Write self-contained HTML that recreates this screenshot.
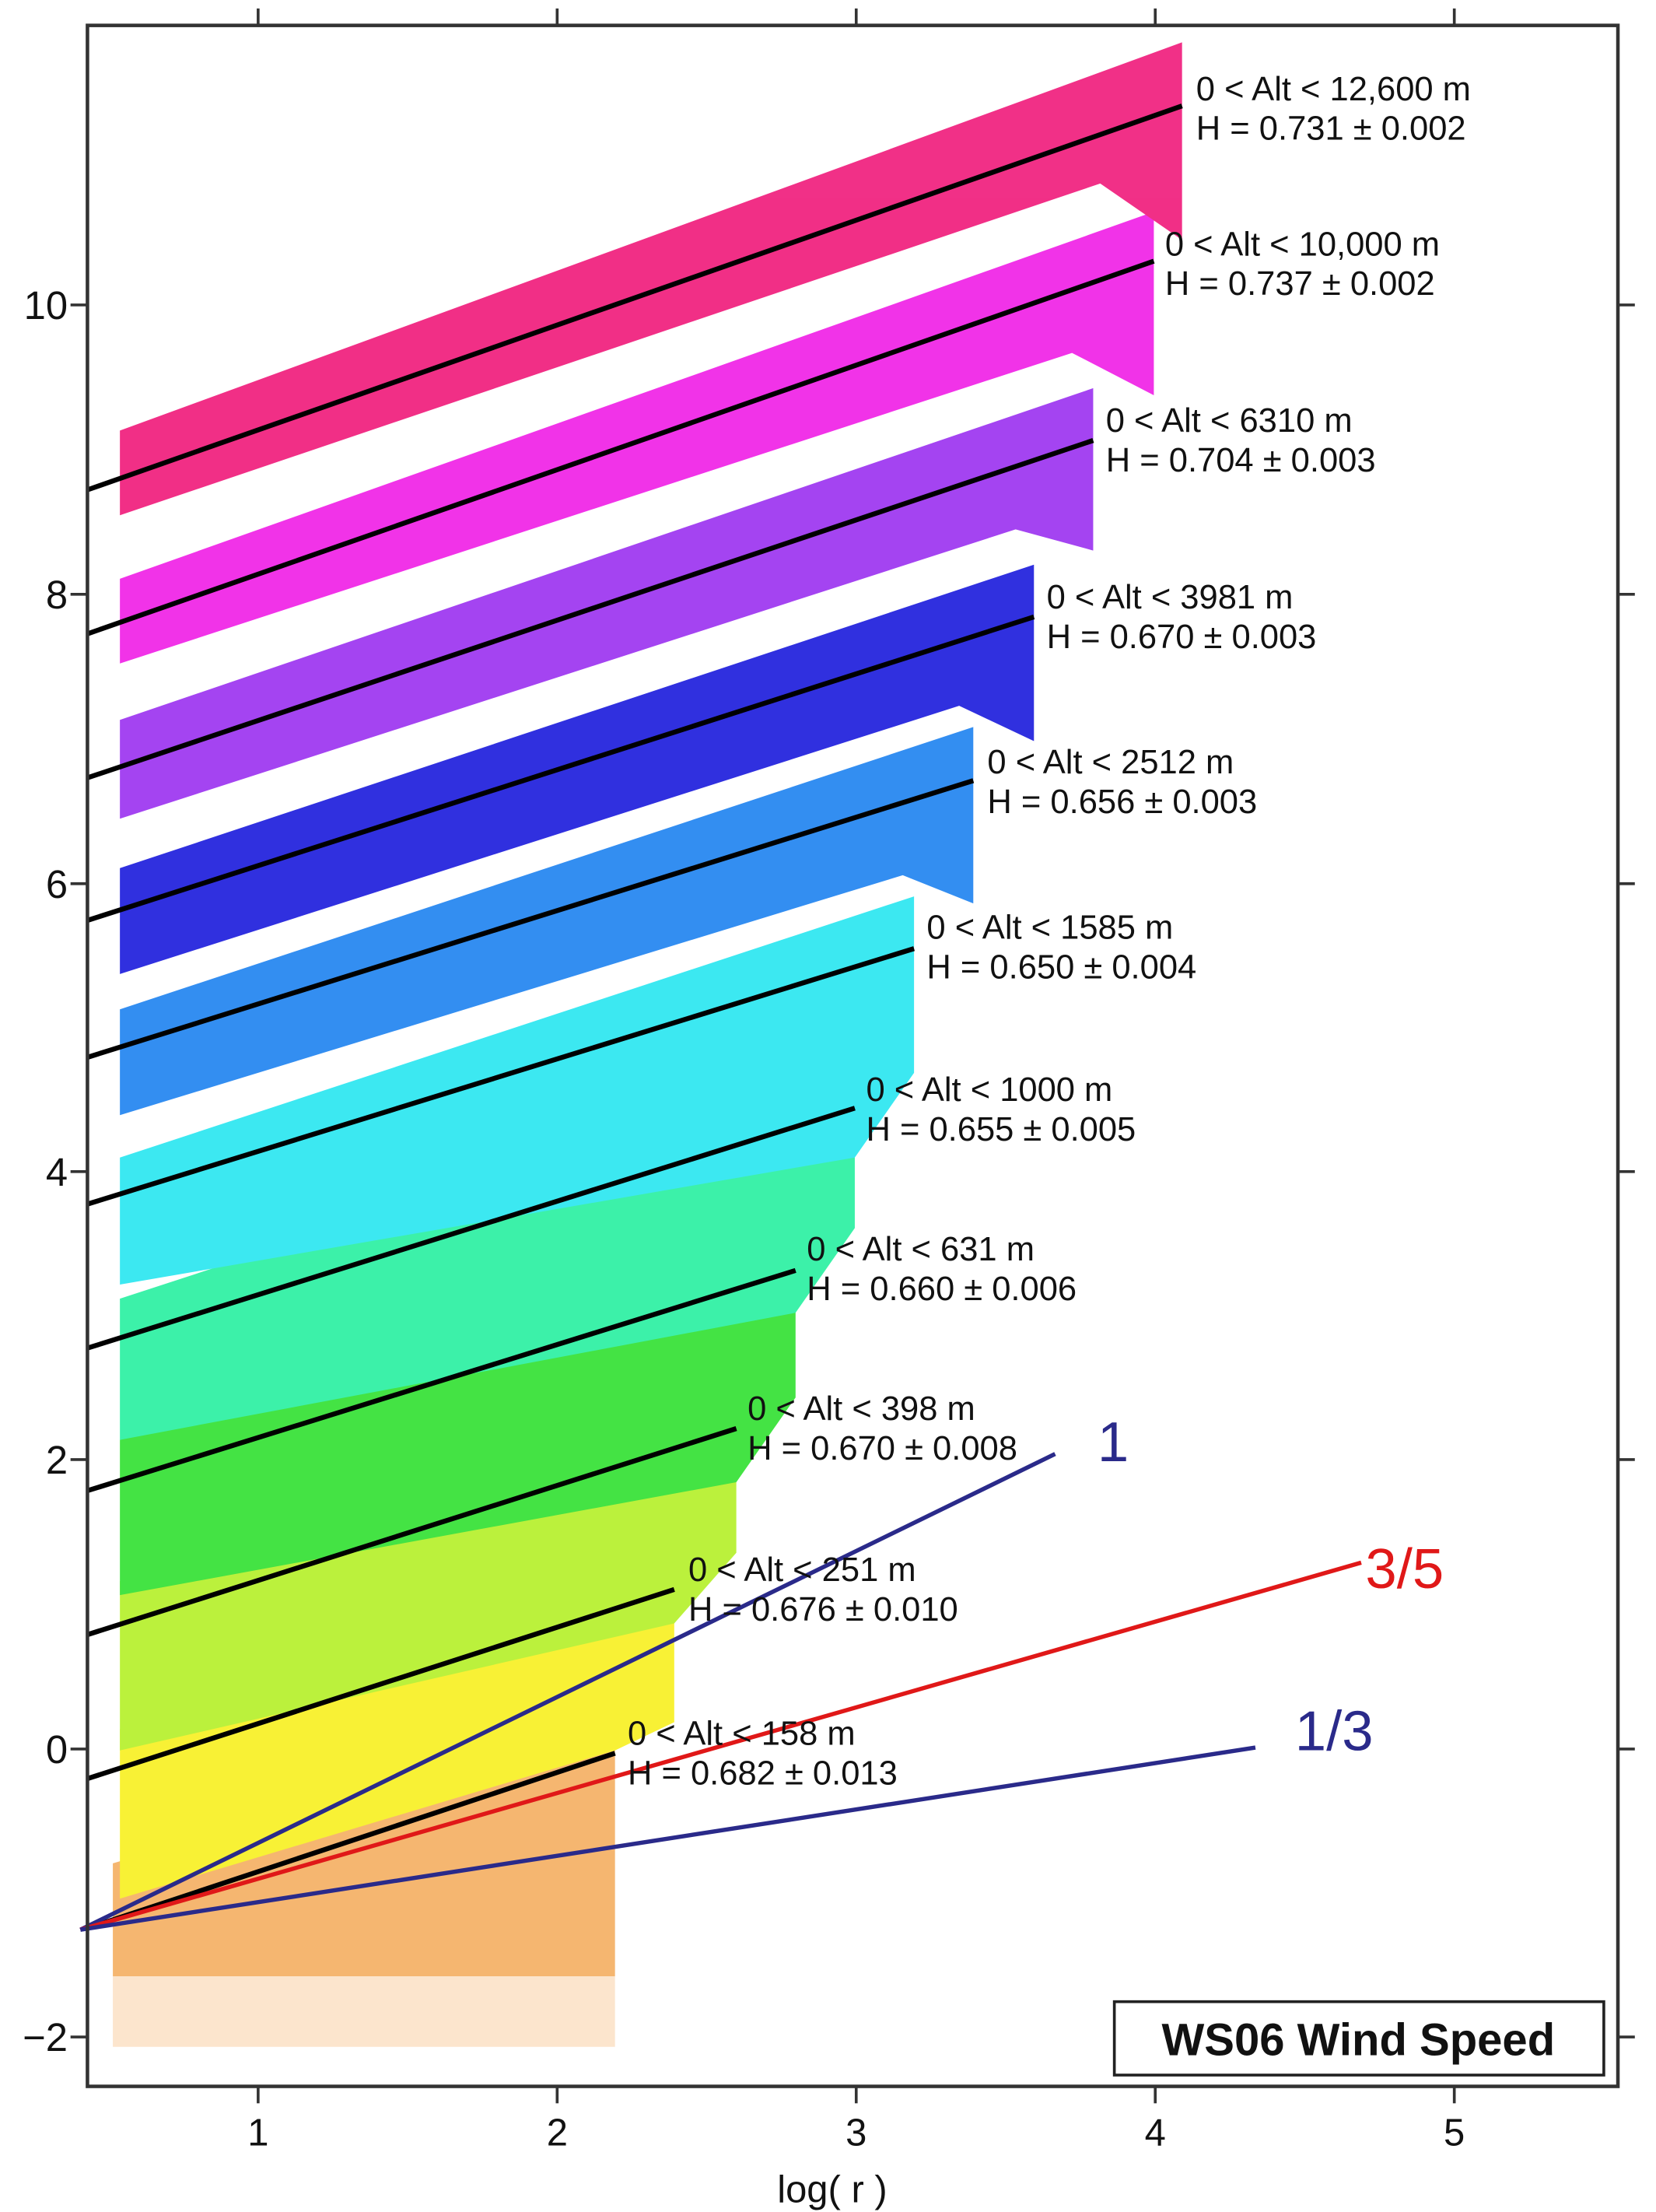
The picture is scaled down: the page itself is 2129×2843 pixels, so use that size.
<!DOCTYPE html>
<html><head><meta charset="utf-8"><style>html,body{margin:0;padding:0;background:#fff}svg{display:block}</style></head>
<body>
<svg width="2129" height="2843" viewBox="0 0 1174 1567" preserveAspectRatio="none" xmlns="http://www.w3.org/2000/svg" font-family="Liberation Sans, sans-serif">
<rect width="1174" height="1567" fill="#fff"/>
<g opacity="0.9">
<polygon points="80,1400 436,1400 436,1450 80,1450" fill="#f08c1e" opacity="0.25"/>
<polygon points="80,1320 436,1215 436,1400 80,1400" fill="#f08c1e" opacity="0.7"/>
<polygon points="85,1225 478,1085 478,1220 436,1240 85,1345" fill="#f8f020"/>
<polygon points="85,1120 522,975 522,1100 478,1150 85,1240" fill="#b4f028"/>
<polygon points="85,1020 564,865 564,990 522,1050 85,1130" fill="#30e030"/>
<polygon points="85,920 606,750 606,870 564,930 85,1020" fill="#28f0a0"/>
<polygon points="85,820 648,635 648,760 606,820 85,910" fill="#28e6f0"/>
<polygon points="85,715 690,515 690,640 640,620 85,790" fill="#1e82f0"/>
<polygon points="85,615 733,400 733,525 680,500 85,690" fill="#1a1adc"/>
<polygon points="85,510 775,275 775,390 720,375 85,580" fill="#9b30f0"/>
<polygon points="85,410 818,150 818,280 760,250 85,470" fill="#f01ee6"/>
<polygon points="85,305 838,30 838,170 780,130 85,365" fill="#f0197a"/>
</g>
<g stroke="#000" stroke-width="3.5">
<line x1="62" y1="347" x2="838" y2="75"/>
<line x1="62" y1="449" x2="818" y2="185"/>
<line x1="62" y1="551" x2="775" y2="312"/>
<line x1="62" y1="652" x2="733" y2="437"/>
<line x1="62" y1="749" x2="690" y2="553"/>
<line x1="62" y1="853" x2="648" y2="672"/>
<line x1="62" y1="955" x2="606" y2="785"/>
<line x1="62" y1="1056" x2="564" y2="900"/>
<line x1="62" y1="1158" x2="522" y2="1012"/>
<line x1="62" y1="1260" x2="478" y2="1126"/>
<line x1="62" y1="1366" x2="436" y2="1242"/>
</g>
<g stroke-width="3">
<line x1="57" y1="1367" x2="748" y2="1030" stroke="#2a2a8a"/>
<line x1="57" y1="1367" x2="965" y2="1107" stroke="#e01818"/>
<line x1="57" y1="1367" x2="890" y2="1238" stroke="#2a2a8a"/>
</g>
<text x="778" y="1035" font-size="40" fill="#2a2a8a">1</text>
<text x="968" y="1125" font-size="40" fill="#e01818">3/5</text>
<text x="918" y="1240" font-size="40" fill="#2a2a8a">1/3</text>
<g font-size="24" fill="#111">
<text x="848" y="71">0 &lt; Alt &lt; 12,600 m</text><text x="848" y="99">H = 0.731 ± 0.002</text>
<text x="826" y="181">0 &lt; Alt &lt; 10,000 m</text><text x="826" y="209">H = 0.737 ± 0.002</text>
<text x="784" y="306">0 &lt; Alt &lt; 6310 m</text><text x="784" y="334">H = 0.704 ± 0.003</text>
<text x="742" y="431">0 &lt; Alt &lt; 3981 m</text><text x="742" y="459">H = 0.670 ± 0.003</text>
<text x="700" y="548">0 &lt; Alt &lt; 2512 m</text><text x="700" y="576">H = 0.656 ± 0.003</text>
<text x="657" y="665">0 &lt; Alt &lt; 1585 m</text><text x="657" y="693">H = 0.650 ± 0.004</text>
<text x="614" y="780">0 &lt; Alt &lt; 1000 m</text><text x="614" y="808">H = 0.655 ± 0.005</text>
<text x="572" y="893">0 &lt; Alt &lt; 631 m</text><text x="572" y="921">H = 0.660 ± 0.006</text>
<text x="530" y="1006">0 &lt; Alt &lt; 398 m</text><text x="530" y="1034">H = 0.670 ± 0.008</text>
<text x="488" y="1120">0 &lt; Alt &lt; 251 m</text><text x="488" y="1148">H = 0.676 ± 0.010</text>
<text x="445" y="1236">0 &lt; Alt &lt; 158 m</text><text x="445" y="1264">H = 0.682 ± 0.013</text>
</g>
<rect x="62" y="18" width="1085" height="1460" fill="none" stroke="#333" stroke-width="2.5"/>
<g stroke="#333" stroke-width="2">
<line x1="183" y1="1478" x2="183" y2="1490"/><line x1="395" y1="1478" x2="395" y2="1490"/><line x1="607" y1="1478" x2="607" y2="1490"/><line x1="819" y1="1478" x2="819" y2="1490"/><line x1="1031" y1="1478" x2="1031" y2="1490"/>
<line x1="183" y1="18" x2="183" y2="6"/><line x1="395" y1="18" x2="395" y2="6"/><line x1="607" y1="18" x2="607" y2="6"/><line x1="819" y1="18" x2="819" y2="6"/><line x1="1031" y1="18" x2="1031" y2="6"/>
<line x1="50" y1="216" x2="62" y2="216"/><line x1="50" y1="421" x2="62" y2="421"/><line x1="50" y1="626" x2="62" y2="626"/><line x1="50" y1="830" x2="62" y2="830"/><line x1="50" y1="1034" x2="62" y2="1034"/><line x1="50" y1="1239" x2="62" y2="1239"/><line x1="50" y1="1443" x2="62" y2="1443"/>
<line x1="1147" y1="216" x2="1159" y2="216"/><line x1="1147" y1="421" x2="1159" y2="421"/><line x1="1147" y1="626" x2="1159" y2="626"/><line x1="1147" y1="830" x2="1159" y2="830"/><line x1="1147" y1="1034" x2="1159" y2="1034"/><line x1="1147" y1="1239" x2="1159" y2="1239"/><line x1="1147" y1="1443" x2="1159" y2="1443"/>
</g>
<g font-size="28" fill="#111" text-anchor="end">
<text x="48" y="226">10</text><text x="48" y="431">8</text><text x="48" y="636">6</text><text x="48" y="840">4</text><text x="48" y="1044">2</text><text x="48" y="1249">0</text><text x="48" y="1453">−2</text>
</g>
<g font-size="27" fill="#111" text-anchor="middle">
<text x="183" y="1520">1</text><text x="395" y="1520">2</text><text x="607" y="1520">3</text><text x="819" y="1520">4</text><text x="1031" y="1520">5</text>
<text x="590" y="1560">log( r )</text>
</g>
<rect x="790" y="1418" width="347" height="52" fill="#fff" stroke="#222" stroke-width="2"/>
<text x="963" y="1456" font-size="32" font-weight="bold" text-anchor="middle" fill="#111">WS06 Wind Speed</text>
</svg>
</body></html>
